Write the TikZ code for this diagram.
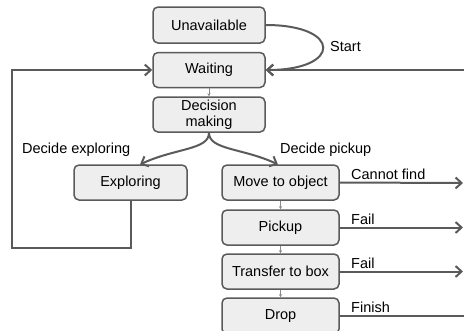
\documentclass[tikz,border=0pt]{standalone}
\usepackage{fontspec}
\setmainfont{Liberation Sans}
\usetikzlibrary{arrows.meta}
\definecolor{ln}{HTML}{5A5A5A}
\definecolor{bx}{HTML}{EEEEEE}
\definecolor{thin}{HTML}{8A8A8A}
\tikzset{
  state/.style={draw=ln, line width=1.5pt, fill=bx, rounded corners=5pt, align=center, inner sep=0pt, font=\fontsize{14.5}{16}\selectfont},
  flow/.style={draw=ln, line width=2pt, -{Straight Barb[length=6pt,width=11pt,line width=2pt]}},
  plain/.style={draw=ln, line width=2pt},
  link/.style={draw=thin, line width=0.6pt, -{Stealth[length=3pt,width=3pt]}},
  lbl/.style={font=\fontsize{14.5}{16}\selectfont, inner sep=0pt, text=black}
}
\begin{document}
\begin{tikzpicture}[x=1pt,y=-1pt]
\useasboundingbox (0,0) rectangle (464,330);
\clip (0,0) rectangle (464,330);
\node[state, minimum width=112pt, minimum height=36pt] (U) at (209,25) {Unavailable};
\node[state, minimum width=112pt, minimum height=35pt] (W) at (209,70) {Waiting};
\node[state, minimum width=112pt, minimum height=35pt] (D) at (209,114.5) {Decision\\making};
\node[state, minimum width=113pt, minimum height=35pt] (E) at (130.5,182.5) {Exploring};
\node[state, minimum width=117pt, minimum height=35pt] (M) at (280.5,182.5) {Move to object};
\node[state, minimum width=117pt, minimum height=35pt] (P) at (280.5,227.5) {Pickup};
\node[state, minimum width=117pt, minimum height=35pt] (T) at (280.5,271.5) {Transfer to box};
\node[state, minimum width=117pt, minimum height=36pt] (R) at (280.5,316) {Drop};

\coordinate (inW) at (464,70);
\coordinate (o1) at (463,183);
\coordinate (o2) at (463,227.5);
\coordinate (o3) at (463,271.5);
\coordinate (o4) at (464,316);
\coordinate (l1) at (131,248);
\coordinate (l2) at (12,248);
\coordinate (l3) at (12,70);

\draw[link] (W) -- (D);
\draw[link] (M) -- (P);
\draw[link] (P) -- (T);
\draw[link] (T) -- (R);

\draw[flow] (U.east) .. controls (342,25) and (342,70) .. (W.east);
\node[lbl, anchor=west] (st) at (330,47) {Start};
\draw[flow] (inW) -- (W.east);

\draw[flow] (D.south) .. controls (209,150) and (175,148) .. (140,164.5);
\draw[flow] (D.south) .. controls (209,150) and (243,148) .. (278,164.5);
\node[lbl, anchor=west] (de) at (22,150) {Decide exploring};
\node[lbl, anchor=west] (dp) at (280,150) {Decide pickup};

\draw[flow] (E.south -| l1) -- (l1) -- (l2) -- (l3) -- (W.west);

\draw[flow] (M.east) -- (o1);
\draw[flow] (P.east) -- (o2);
\draw[flow] (T.east) -- (o3);
\draw[plain] (R.east) -- (o4);
\node[lbl, anchor=south west] (c1) at (351,180) {Cannot find};
\node[lbl, anchor=south west] (c2) at (351,224.5) {Fail};
\node[lbl, anchor=south west] (c3) at (351,268.5) {Fail};
\node[lbl, anchor=south west] (c4) at (351,313) {Finish};
\end{tikzpicture}
\end{document}
